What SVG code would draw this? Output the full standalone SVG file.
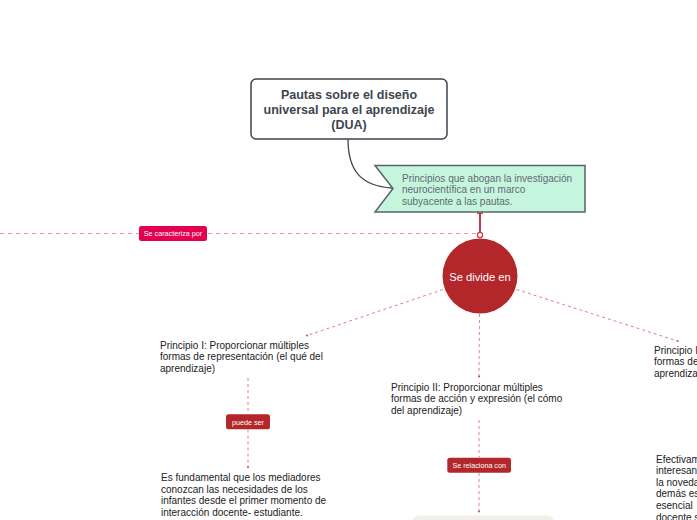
<svg xmlns="http://www.w3.org/2000/svg" width="697" height="520" viewBox="0 0 697 520">
<style>
  text { font-family: "Liberation Sans", Arial, sans-serif; }
  .dash { fill: none; stroke: #e0707c; stroke-width: 0.9; stroke-dasharray: 3 3; }
  .pinkdash { fill: none; stroke: #f28da2; stroke-width: 1; stroke-dasharray: 4 4; }
  .body { font-size: 10px; fill: #222; }
  .lbl { font-size: 7.2px; fill: #fff; text-anchor: middle; }
  .dot { fill: #d0505c; }
</style>
<rect width="697" height="520" fill="#ffffff"/>
<g id="connectors">
  <path d="M348,139 C348,172 362,186 392,188" fill="none" stroke="#3d4650" stroke-width="1.3"/>
  <line x1="0" y1="233.5" x2="477" y2="233.5" class="pinkdash"/>
  <line x1="480" y1="213" x2="480" y2="232.5" stroke="#c8374a" stroke-width="2"/>
  <line x1="477" y1="213.2" x2="483" y2="213.2" stroke="#c8374a" stroke-width="1.5"/>
  <circle cx="480" cy="235" r="2.6" fill="#fff" stroke="#c8374a" stroke-width="1.2"/>
  <path d="M443,289.5 L307,335.5" class="dash"/>
  <circle cx="307" cy="335.5" r="1.1" class="dot"/>
  <path d="M479.5,314 L479,376" class="dash"/>
  <circle cx="479" cy="376.5" r="1.1" class="dot"/>
  <path d="M516.5,289.5 L677.5,341" class="dash"/>
  <circle cx="677.5" cy="341" r="1.1" class="dot"/>
  <path d="M248,378 L248,414" class="dash"/>
  <path d="M248,429.5 L248,466" class="dash"/>
  <circle cx="248" cy="467" r="1.1" class="dot"/>
  <path d="M479,420 L479,457.5" class="dash"/>
  <path d="M479,473 L479,511" class="dash"/>
  <circle cx="479" cy="511.5" r="1.1" class="dot"/>
</g>
<g id="node-main">
  <rect x="251" y="79" width="196" height="60" rx="5" fill="#ffffff" stroke="#3d4650" stroke-width="1.5"/>
  <text x="349" y="99" text-anchor="middle" font-size="12.5" font-weight="bold" fill="#3d4650">Pautas sobre el diseño</text>
  <text x="349" y="114" text-anchor="middle" font-size="12.5" font-weight="bold" fill="#3d4650">universal para el aprendizaje</text>
  <text x="349" y="129" text-anchor="middle" font-size="12.5" font-weight="bold" fill="#3d4650">(DUA)</text>
</g>
<g id="node-callout">
  <polygon points="375,165.5 585,165.5 585,212 375,212 393,188.5" fill="#c6f5dd" stroke="#56636d" stroke-width="1.5"/>
  <text x="402" y="181.5" font-size="10" fill="#5f6b75">Principios que abogan la investigación</text>
  <text x="402" y="193" font-size="10" fill="#5f6b75">neurocientífica en un marco</text>
  <text x="402" y="204.5" font-size="10" fill="#5f6b75">subyacente a las pautas.</text>
</g>
<g id="label-caracteriza">
  <rect x="139" y="226" width="68" height="15" rx="2.5" fill="#e2004f"/>
  <text x="173" y="236.3" class="lbl">Se caracteriza por</text>
</g>
<g id="node-center">
  <circle cx="480" cy="276" r="37.5" fill="#b3262a"/>
  <text x="480" y="280.5" text-anchor="middle" font-size="11.2" fill="#ffffff">Se divide en</text>
</g>
<g id="node-p1">
  <text x="160" y="348.5" class="body">Principio I: Proporcionar múltiples</text>
  <text x="160" y="360" class="body">formas de representación (el qué del</text>
  <text x="160" y="371.5" class="body">aprendizaje)</text>
</g>
<g id="node-p2">
  <text x="391" y="390.5" class="body" fill="#333">Principio II: Proporcionar múltiples</text>
  <text x="391" y="402.2" class="body">formas de acción y expresión (el cómo</text>
  <text x="391" y="413.8" class="body">del aprendizaje)</text>
</g>
<g id="node-p3">
  <text x="654" y="353.5" class="body">Principio III: Proporcionar múltiples</text>
  <text x="654" y="365" class="body">formas de implicación (el porqué del</text>
  <text x="654" y="376.5" class="body">aprendizaje)</text>
</g>
<g id="label-puede">
  <rect x="226" y="414.3" width="44" height="15" rx="2.5" fill="#b3262a"/>
  <text x="248" y="424.5" class="lbl">puede ser</text>
</g>
<g id="label-relaciona">
  <rect x="447.3" y="457.7" width="63.7" height="15" rx="2.5" fill="#b3262a"/>
  <text x="479.2" y="467.8" class="lbl">Se relaciona con</text>
</g>
<g id="node-fundamental">
  <text x="161" y="481" class="body" fill="#111">Es fundamental que los mediadores</text>
  <text x="161" y="492.6" class="body" fill="#111">conozcan las necesidades de los</text>
  <text x="161" y="504.2" class="body" fill="#111">infantes desde el primer momento de</text>
  <text x="161" y="515.8" class="body" fill="#111">interacción docente- estudiante.</text>
</g>
<g id="node-bottom">
  <rect x="413" y="515.5" width="141" height="20" rx="6" fill="#f0efea"/>
</g>
<g id="node-efectiva">
  <text x="656" y="462.5" class="body">Efectivamente</text>
  <text x="656" y="474.1" class="body">interesante</text>
  <text x="656" y="485.7" class="body">la novedad</text>
  <text x="656" y="497.3" class="body">demás es</text>
  <text x="656" y="508.9" class="body">esencial</text>
  <text x="656" y="520.5" class="body">docente s</text>
</g>
</svg>
